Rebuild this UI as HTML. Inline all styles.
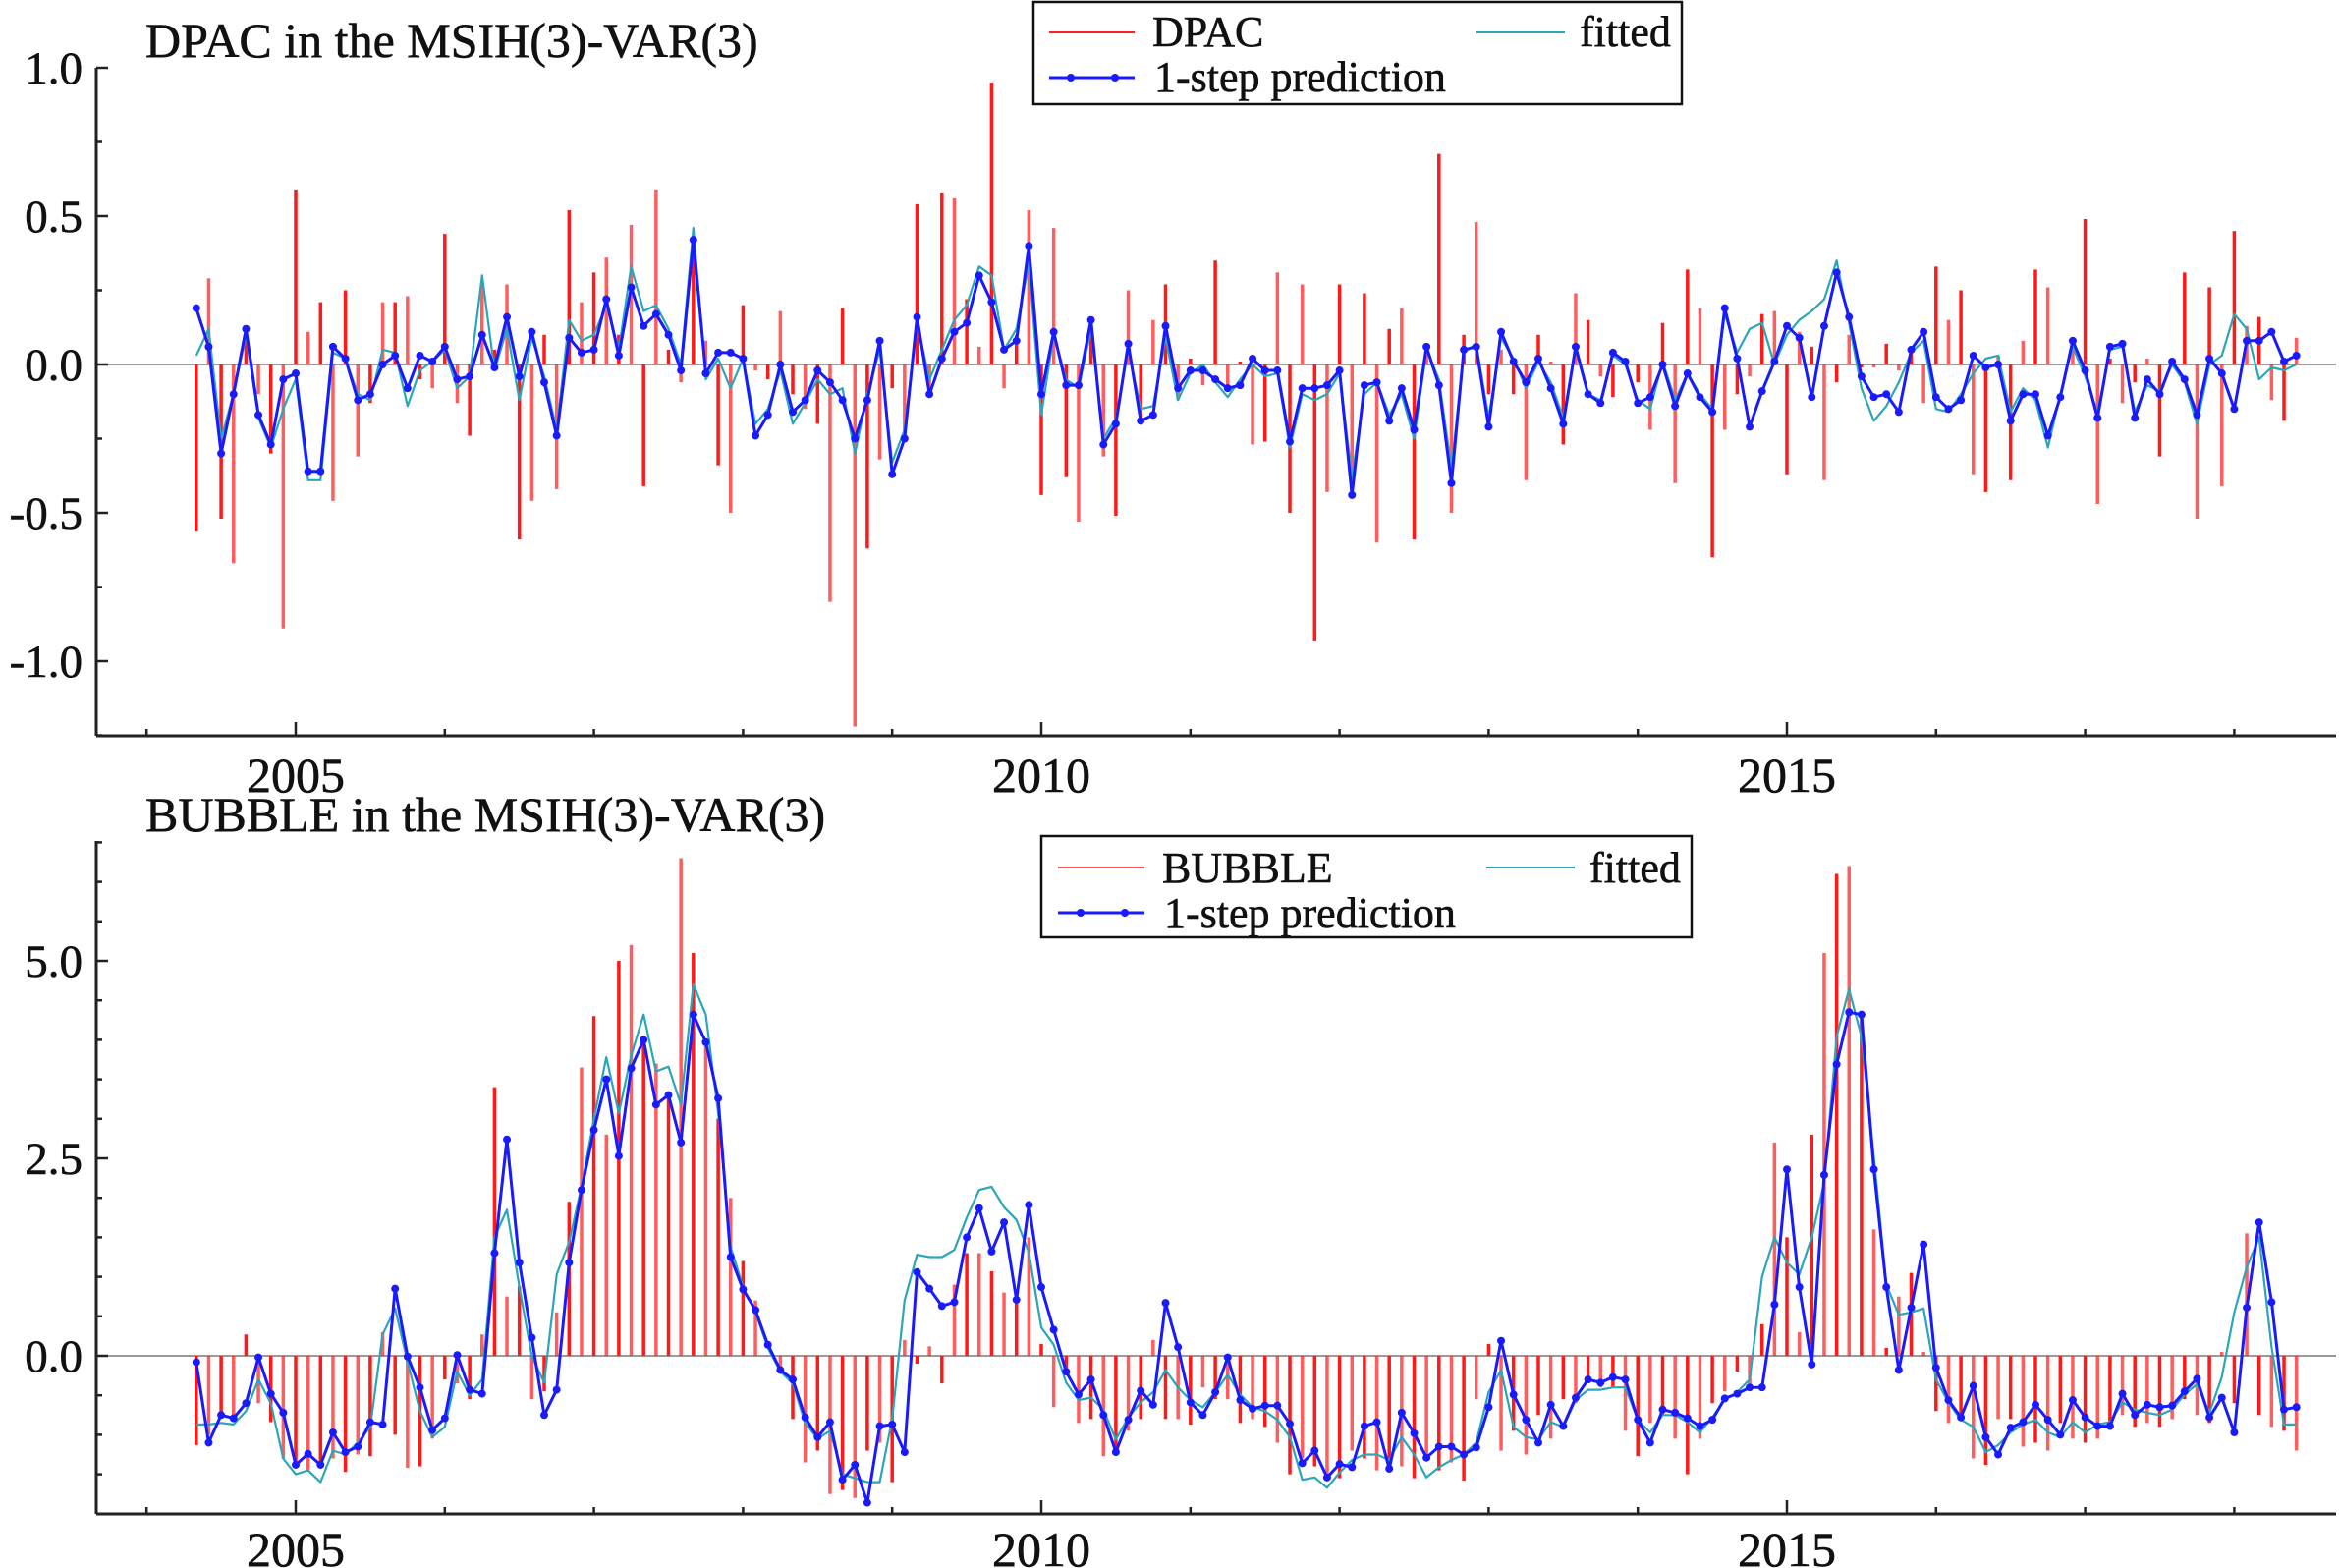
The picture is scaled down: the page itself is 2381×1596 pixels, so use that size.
<!DOCTYPE html>
<html><head><meta charset="utf-8">
<style>
html,body{margin:0;padding:0;background:#fff;}
svg{display:block;font-family:"Liberation Serif","DejaVu Serif",serif;}
svg text{stroke:#111;stroke-width:0.6px;}
</style></head>
<body>
<svg id="chart" width="2381" height="1596" viewBox="0 0 2381 1596" xmlns="http://www.w3.org/2000/svg">
<text x="148" y="58" font-size="50" fill="#111">DPAC in the MSIH(3)-VAR(3)</text>
<text x="148" y="846" font-size="50" fill="#111">BUBBLE in the MSIH(3)-VAR(3)</text>
<g id="top"></g>
<g id="bot"></g>
<g>
<rect x="1052" y="2" width="660" height="104" fill="#fff" stroke="#111" stroke-width="2.5"/>
<line x1="1068" y1="33" x2="1155" y2="33" stroke="#ff2020" stroke-width="2"/>
<text x="1173" y="47" font-size="44" fill="#111">DPAC</text>
<line x1="1503" y1="33" x2="1593" y2="33" stroke="#2aa6b8" stroke-width="2"/>
<text x="1608" y="47" font-size="44" fill="#111">fitted</text>
<line x1="1068" y1="79" x2="1155" y2="79" stroke="#1a1aff" stroke-width="3"/>
<circle cx="1090" cy="79" r="4" fill="#1a1aff"/><circle cx="1135" cy="79" r="4" fill="#1a1aff"/>
<text x="1175" y="93" font-size="44" fill="#111">1-step prediction</text>
</g>
<g>
<rect x="1060" y="851" width="662" height="103" fill="#fff" stroke="#111" stroke-width="2.5"/>
<line x1="1077" y1="883" x2="1165" y2="883" stroke="#ff5050" stroke-width="2"/>
<text x="1183" y="898" font-size="44" fill="#111">BUBBLE</text>
<line x1="1513" y1="883" x2="1603" y2="883" stroke="#2aa6b8" stroke-width="2"/>
<text x="1618" y="898" font-size="44" fill="#111">fitted</text>
<line x1="1077" y1="929" x2="1165" y2="929" stroke="#1a1aff" stroke-width="3"/>
<circle cx="1100" cy="929" r="4" fill="#1a1aff"/><circle cx="1145" cy="929" r="4" fill="#1a1aff"/>
<text x="1185" y="944" font-size="44" fill="#111">1-step prediction</text>
</g>
</svg>
<script>
const startYear = 2004 + 4/12;
const xTickYears = [2004,2005,2006,2007,2008,2009,2010,2011,2012,2013,2014,2015,2016,2017,2018];
const xLabelYears = [2005,2010,2015];
const dpacTicks = [1.0,0.75,0.5,0.25,0,-0.25,-0.5,-0.75,-1.0,-1.25];
const dpacLabels = [1.0,0.5,0.0,-0.5,-1.0];
const bubbleTicks = [6.5,6,5.5,5,4.5,4,3.5,3,2.5,2,1.5,1,0.5,0,-0.5,-1,-1.5,-2];
const bubbleLabels = [5.0,2.5,0.0];
const dpacActual = [-0.56,0.29,-0.52,-0.67,0.08,-0.10,-0.30,-0.89,0.59,0.11,
0.21,-0.46,0.25,-0.31,-0.13,0.21,0.21,0.23,-0.05,-0.08,
0.44,-0.13,-0.24,0.28,0.05,0.27,-0.59,-0.46,0.10,-0.42,
0.52,0.21,0.31,0.36,0.10,0.47,-0.41,0.59,0.05,-0.06,
0.42,0.08,-0.34,-0.50,0.20,-0.02,-0.05,0.18,-0.10,-0.15,
-0.20,-0.80,0.19,-1.22,-0.62,-0.32,-0.08,-0.25,0.54,-0.10,
0.58,0.56,0.22,0.06,0.95,-0.08,0.10,0.52,-0.44,0.46,
-0.38,-0.53,0.10,-0.31,-0.51,0.25,-0.20,0.15,0.27,-0.12,
0.02,-0.07,0.35,-0.08,0.01,-0.27,-0.26,0.31,-0.50,0.27,
-0.93,-0.43,0.27,-0.39,0.24,-0.60,0.12,0.19,-0.59,0.07,
0.71,-0.50,0.10,0.48,-0.10,0.05,-0.10,-0.39,0.10,0.01,
-0.27,0.24,0.15,-0.04,-0.11,0.01,-0.06,-0.22,0.14,-0.40,
0.32,0.19,-0.65,-0.22,-0.10,-0.04,0.17,0.18,-0.37,0.11,
0.06,-0.39,-0.06,0.10,-0.01,-0.01,0.07,-0.02,0.04,-0.13,
0.33,0.15,0.25,-0.37,-0.43,0.03,-0.39,0.08,0.32,0.26,
0.00,0.05,0.49,-0.47,0.02,-0.13,-0.06,0.02,-0.31,0.00,
0.31,-0.52,0.26,-0.41,0.45,0.13,0.16,-0.12,-0.19,0.09];
const dpacPred = [0.19,0.06,-0.30,-0.10,0.12,-0.17,-0.27,-0.05,-0.03,-0.36,
-0.36,0.06,0.02,-0.12,-0.10,0.00,0.03,-0.08,0.03,0.01,
0.06,-0.05,-0.04,0.10,-0.01,0.16,-0.04,0.11,-0.06,-0.24,
0.09,0.04,0.05,0.22,0.03,0.26,0.13,0.17,0.10,-0.02,
0.42,-0.03,0.04,0.04,0.02,-0.24,-0.17,0.00,-0.16,-0.12,
-0.02,-0.06,-0.12,-0.25,-0.12,0.08,-0.37,-0.25,0.16,-0.10,
0.02,0.11,0.14,0.30,0.21,0.05,0.08,0.40,-0.10,0.11,
-0.07,-0.07,0.15,-0.27,-0.20,0.07,-0.19,-0.17,0.13,-0.08,
-0.02,-0.02,-0.05,-0.08,-0.07,0.02,-0.02,-0.02,-0.26,-0.08,
-0.08,-0.07,-0.02,-0.44,-0.07,-0.06,-0.19,-0.08,-0.22,0.06,
-0.07,-0.40,0.05,0.06,-0.21,0.11,0.01,-0.06,0.02,-0.08,
-0.20,0.06,-0.10,-0.13,0.04,0.01,-0.13,-0.11,0.00,-0.14,
-0.03,-0.11,-0.16,0.19,0.02,-0.21,-0.09,0.01,0.13,0.09,
-0.11,0.13,0.31,0.16,-0.04,-0.11,-0.10,-0.16,0.05,0.11,
-0.11,-0.15,-0.12,0.03,-0.01,0.00,-0.19,-0.10,-0.10,-0.24,
-0.11,0.08,-0.02,-0.18,0.06,0.07,-0.18,-0.05,-0.10,0.01,
-0.05,-0.17,0.02,-0.03,-0.15,0.08,0.08,0.11,0.01,0.03];
const dpacFitted = [0.03,0.12,-0.25,-0.10,0.10,-0.18,-0.28,-0.15,-0.05,-0.39,
-0.39,0.04,0.02,-0.10,-0.12,0.05,0.04,-0.14,-0.02,0.01,
0.05,-0.08,-0.04,0.30,-0.02,0.12,-0.12,0.09,-0.04,-0.22,
0.15,0.08,0.10,0.20,0.05,0.33,0.18,0.20,0.12,0.00,
0.46,-0.05,0.02,-0.08,0.02,-0.20,-0.15,-0.02,-0.20,-0.13,
-0.05,-0.10,-0.08,-0.30,-0.10,0.05,-0.33,-0.22,0.14,-0.05,
0.05,0.15,0.20,0.33,0.30,0.05,0.12,0.34,-0.17,0.10,
-0.05,-0.08,0.12,-0.25,-0.18,0.05,-0.15,-0.14,0.09,-0.12,
-0.03,0.00,-0.06,-0.11,-0.05,0.00,-0.04,-0.03,-0.28,-0.10,
-0.12,-0.10,-0.03,-0.38,-0.10,-0.06,-0.17,-0.10,-0.25,0.05,
-0.05,-0.35,0.04,0.07,-0.18,0.09,0.02,-0.08,0.01,-0.06,
-0.18,0.05,-0.10,-0.12,0.03,0.00,-0.12,-0.15,0.01,-0.12,
-0.03,-0.10,-0.15,0.17,0.04,0.12,0.14,0.00,0.10,0.15,
0.18,0.22,0.35,0.14,-0.08,-0.19,-0.14,-0.06,0.04,0.08,
-0.15,-0.16,-0.10,-0.03,0.02,0.03,-0.16,-0.08,-0.12,-0.28,
-0.10,0.06,-0.04,-0.16,0.05,0.06,-0.16,-0.07,-0.09,0.00,
-0.06,-0.20,0.00,0.03,0.17,0.12,-0.05,-0.01,-0.02,0.00];
const bubbleActual = [-1.13,-1.00,-0.72,-0.75,0.27,-0.60,-0.84,-1.30,-1.40,-1.45,
-1.40,-1.30,-1.47,-1.25,-1.27,0.30,-1.00,-1.42,-1.40,-1.05,
-0.30,-0.35,-0.55,0.27,3.40,0.75,0.88,-0.55,-0.45,0.55,
1.95,3.65,4.30,2.80,5.00,5.20,4.00,3.70,3.30,6.30,
5.10,4.00,3.00,2.00,1.20,0.70,0.00,-0.15,-0.80,-1.35,
-1.20,-1.75,-1.70,-1.80,-1.20,-1.10,-1.60,0.20,-0.10,0.12,
-0.35,0.90,1.30,1.30,1.07,0.80,0.75,1.50,0.15,-0.65,
-0.25,-0.85,-0.80,-1.27,-1.25,-0.95,-0.80,0.20,-0.80,-0.80,
-0.87,-0.40,-0.55,-0.55,-0.85,-0.80,-0.90,-1.10,-1.50,-1.30,
-1.40,-1.50,-1.55,-1.20,-1.30,-1.45,-1.45,-1.40,-1.55,-1.30,
-1.45,-1.35,-1.58,-0.55,0.15,-1.20,-0.95,-1.25,-0.75,-1.05,
-0.55,-0.60,-0.30,-0.40,-0.40,-0.95,-1.27,-0.85,-0.75,-1.05,
-1.50,-1.05,-0.60,-0.45,-0.20,-0.35,0.40,2.70,1.50,0.30,
2.80,5.10,6.10,6.20,4.30,1.60,0.10,0.75,1.05,0.05,
-0.70,-0.85,-0.80,-1.30,-1.38,-0.80,-0.80,-1.15,-1.10,-1.20,
-0.85,-1.05,-1.10,-1.05,-0.85,-0.75,-0.90,-0.85,-0.90,-0.80,
-0.55,-0.75,-0.85,0.05,-0.60,1.55,-0.75,-0.90,-0.95,-1.20];
const bubblePred = [-0.08,-1.10,-0.75,-0.79,-0.60,-0.02,-0.48,-0.72,-1.38,-1.24,
-1.38,-0.97,-1.22,-1.15,-0.84,-0.87,0.85,-0.01,-0.40,-0.94,
-0.79,0.01,-0.43,-0.48,1.30,2.74,1.18,0.23,-0.75,-0.43,
1.18,2.10,2.86,3.50,2.53,3.64,4.00,3.18,3.30,2.70,
4.32,3.97,3.26,1.25,0.84,0.58,0.14,-0.18,-0.30,-0.78,
-1.03,-0.84,-1.57,-1.38,-1.86,-0.89,-0.87,-1.22,1.06,0.85,
0.63,0.68,1.50,1.87,1.32,1.69,0.71,1.91,0.87,0.33,
-0.20,-0.49,-0.30,-0.75,-1.22,-0.81,-0.44,-0.62,0.67,0.11,
-0.59,-0.75,-0.46,-0.02,-0.56,-0.67,-0.63,-0.63,-0.86,-1.36,
-1.20,-1.54,-1.37,-1.41,-0.89,-0.84,-1.43,-0.72,-0.98,-1.29,
-1.15,-1.15,-1.25,-1.16,-0.65,0.19,-0.49,-0.81,-1.10,-0.62,
-0.89,-0.53,-0.30,-0.34,-0.27,-0.30,-0.81,-1.10,-0.68,-0.72,
-0.79,-0.89,-0.81,-0.54,-0.48,-0.40,-0.40,0.65,2.36,0.87,
-0.11,2.29,3.69,4.35,4.32,2.36,0.87,-0.18,0.61,1.41,
-0.15,-0.56,-0.78,-0.38,-1.03,-1.25,-0.91,-0.84,-0.62,-0.81,
-1.00,-0.56,-0.78,-0.89,-0.89,-0.48,-0.75,-0.62,-0.65,-0.63,
-0.45,-0.29,-0.78,-0.53,-0.97,0.61,1.69,0.68,-0.68,-0.65];
const bubbleFitted = [-0.87,-0.87,-0.85,-0.87,-0.70,-0.30,-0.60,-1.30,-1.50,-1.45,
-1.60,-1.20,-1.25,-1.10,-0.90,0.27,0.60,-0.08,-0.70,-1.03,
-0.90,-0.20,-0.50,-0.30,1.50,1.85,0.87,0.00,-0.34,1.03,
1.44,2.14,3.00,3.78,3.07,3.80,4.32,3.60,3.66,3.18,
4.70,4.32,3.07,1.38,0.87,0.55,0.10,-0.20,-0.35,-0.85,
-1.05,-0.95,-1.50,-1.55,-1.60,-1.60,-0.80,0.70,1.28,1.25,
1.25,1.34,1.75,2.10,2.14,1.88,1.72,1.31,0.36,0.14,
-0.34,-0.56,-0.53,-0.68,-1.06,-0.78,-0.59,-0.46,-0.18,-0.40,
-0.56,-0.65,-0.46,-0.24,-0.49,-0.65,-0.70,-0.81,-1.03,-1.57,
-1.54,-1.67,-1.48,-1.32,-1.25,-1.25,-1.32,-1.03,-1.25,-1.54,
-1.41,-1.32,-1.25,-1.10,-0.46,-0.18,-0.90,-1.03,-1.06,-0.84,
-0.90,-0.56,-0.43,-0.43,-0.40,-0.40,-0.81,-0.97,-0.75,-0.75,
-0.84,-0.97,-0.78,-0.56,-0.46,-0.30,1.00,1.50,1.18,1.03,
1.50,2.20,4.04,4.64,4.04,2.52,0.90,0.52,0.55,0.60,
-0.30,-0.59,-0.81,-0.90,-1.22,-1.13,-0.97,-0.87,-0.81,-0.97,
-1.03,-0.84,-0.97,-0.87,-0.84,-0.59,-0.68,-0.72,-0.75,-0.68,
-0.49,-0.36,-0.72,-0.27,0.55,1.12,1.50,0.11,-0.87,-0.87];

const NS = "http://www.w3.org/2000/svg";
function mk(tag, attrs, parent){ const e=document.createElementNS(NS,tag); for(const k in attrs) e.setAttribute(k,attrs[k]); parent.appendChild(e); return e; }
function xPos(year){ return 301 + (year-2005)*151.8; }
function monthX(i){ return xPos(startYear + i/12); }

function drawPanel(g, cfg){
  const y = cfg.y;
  const L=98, R=2378;
  const z = mk('line',{x1:L,y1:y(0),x2:R,y2:y(0),stroke:'#9a9a9a','stroke-width':2},g);
  
  
  cfg.actual.forEach((v,i)=>{
    const b = mk('line',{x1:monthX(i),x2:monthX(i),y1:y(0),y2:y(v),stroke:'#ff1a1a','stroke-width':3.5,'stroke-opacity':(i%2?0.7:1)},g);
    
    
  });
  const fp = cfg.fitted.map((v,i)=>monthX(i).toFixed(1)+','+y(v).toFixed(1)).join(' ');
  const fl = mk('polyline',{points:fp,fill:'none',stroke:'#2aa6b8','stroke-width':2.2,'stroke-linejoin':'round'},g);
  
  
  const pp = cfg.pred.map((v,i)=>monthX(i).toFixed(1)+','+y(v).toFixed(1)).join(' ');
  const pl = mk('polyline',{points:pp,fill:'none',stroke:'#1a1aff','stroke-width':3,'stroke-linejoin':'round'},g);
  
  
  cfg.pred.forEach((v,i)=>{
    const c = mk('circle',{cx:monthX(i),cy:y(v),r:4,fill:'#1a1aff'},g);
    
    
  });
  const ya = mk('line',{x1:L,y1:cfg.top,x2:L,y2:cfg.bottom,stroke:'#222','stroke-width':3},g);
  
  
  const xa = mk('line',{x1:L,y1:cfg.bottom,x2:R,y2:cfg.bottom,stroke:'#222','stroke-width':3},g);
  
  
  cfg.ticks.forEach(t=>{
    const major = cfg.labels.some(l=>Math.abs(l-t)<1e-9);
    const tk = mk('line',{x1:L,x2:L+(major?12:6),y1:y(t),y2:y(t),stroke:'#222','stroke-width':2.5},g);
    
    
  });
  cfg.labels.forEach(t=>{
    const tx = mk('text',{x:84,y:y(t)+16,'text-anchor':'end','font-size':47,fill:'#111'},g);
    tx.textContent = t.toFixed(1);
    
    
  });
  xTickYears.forEach(yr=>{
    const major = xLabelYears.includes(yr);
    const tk = mk('line',{x1:xPos(yr),x2:xPos(yr),y1:cfg.bottom,y2:cfg.bottom-(major?14:7),stroke:'#222','stroke-width':2.5},g);
    
    
  });
  xLabelYears.forEach(yr=>{
    const tx = mk('text',{x:xPos(yr),y:cfg.labelY,'text-anchor':'middle','font-size':50,fill:'#111'},g);
    tx.textContent = String(yr);
    
    
  });
}

drawPanel(document.getElementById('top'),{
  key:'dpac', y:v=>371 - v*302, top:69, bottom:749, labelY:806,
  ticks:dpacTicks, labels:dpacLabels, actual:dpacActual, pred:dpacPred, fitted:dpacFitted});
drawPanel(document.getElementById('bot'),{
  key:'bubble', y:v=>1380 - v*80.4, top:856, bottom:1541, labelY:1594,
  ticks:bubbleTicks, labels:bubbleLabels, actual:bubbleActual, pred:bubblePred, fitted:bubbleFitted});
</script>
</body></html>
